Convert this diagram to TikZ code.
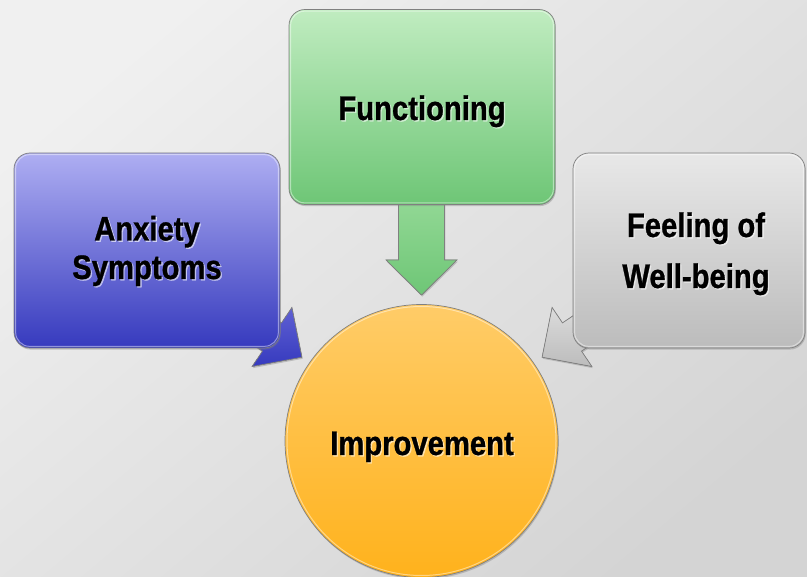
\documentclass[tikz,border=0pt]{standalone}
\usepackage{fontspec}
\setmainfont{Liberation Sans}[FakeStretch=0.86,FakeBold=0.8]
\usetikzlibrary{shadows}
\definecolor{bgA}{RGB}{240,240,240}
\definecolor{bgB}{RGB}{212,212,212}
\definecolor{blueT}{RGB}{174,174,242}
\definecolor{blueM}{RGB}{112,112,220}
\definecolor{blueB}{RGB}{54,58,190}
\definecolor{greenT}{RGB}{192,236,192}
\definecolor{greenM}{RGB}{150,218,152}
\definecolor{greenB}{RGB}{110,198,118}
\definecolor{grayT}{RGB}{232,232,232}
\definecolor{grayM}{RGB}{212,212,212}
\definecolor{grayB}{RGB}{188,188,188}
\definecolor{orT}{RGB}{255,204,104}
\definecolor{orB}{RGB}{255,178,28}
\newcommand\mylabel[3]{%
  \node[lblsh, xshift=1.3pt, yshift=-1.3pt] at (#2) {#3};
  \node[lbl] (#1) at (#2) {#3};}
\begin{document}
\begin{tikzpicture}[x=1pt,y=-1pt,
  lbl/.style={font=\fontsize{34}{40}\selectfont\bfseries, inner sep=0pt, anchor=base, text=black},
  lblsh/.style={lbl, text=white, opacity=0.55},
  shapeline/.style={draw=black!50, line width=0.7pt},
  shd/.style={drop shadow={shadow xshift=0.8pt, shadow yshift=-1.6pt, opacity=0.4}},
  box/.style={rectangle, rounded corners=16pt, shapeline, shd, inner sep=0pt},
  hilite/.style={draw=white, opacity=0.45, line width=1pt, rounded corners=14pt}
]
\useasboundingbox (0,0) rectangle (807,577);
\clip (0,0) rectangle (807,577);
\fill[top color=bgA, bottom color=bgB, shading angle=40] (-20,-20) rectangle (827,597);

% ---- arrows (behind the boxes)
\filldraw[top color=blueM, bottom color=blueB, shapeline, shd]
  (223.4,283.7) -- (281.5,322.9) -- (291.9,307.5) -- (301.9,357.2)
  -- (252.1,366.5) -- (262.5,351.1) -- (204.4,312.3) -- cycle;
\filldraw[top color=greenM, bottom color=greenB, shapeline, shd]
  (398.5,190) -- (398.5,260) -- (386,260) -- (421.5,295) -- (457,260)
  -- (444.5,260) -- (444.5,190) -- cycle;
\filldraw[top color=grayT, bottom color=grayB, shapeline, shd]
  (620.6,283.7) -- (562.5,322.9) -- (552.1,307.5) -- (542.1,357.2)
  -- (591.9,366.5) -- (581.5,351.1) -- (639.6,312.3) -- cycle;

% ---- boxes
\node[box, top color=blueT, bottom color=blueB, minimum width=266pt, minimum height=195pt] (anxbox) at (147,250.5) {};
\node[box, top color=greenT, bottom color=greenB, minimum width=266pt, minimum height=195pt] (funbox) at (422,107) {};
\node[box, top color=grayT, bottom color=grayB, minimum width=232pt, minimum height=195pt] (welbox) at (689,250.5) {};
\draw[hilite] ([shift={(2,2)}]anxbox.north west) rectangle ([shift={(-2,-2)}]anxbox.south east);
\draw[hilite] ([shift={(2,2)}]funbox.north west) rectangle ([shift={(-2,-2)}]funbox.south east);
\draw[hilite] ([shift={(2,2)}]welbox.north west) rectangle ([shift={(-2,-2)}]welbox.south east);

% ---- circle
\node[circle, minimum size=273pt, inner sep=0pt, top color=orT, bottom color=orB, shapeline, shd] (impcirc) at (421.5,441) {};
\draw[draw=white, opacity=0.45, line width=1pt] (impcirc.center) circle (134.5);

% ---- labels
\mylabel{anx1}{147,240.5}{Anxiety}
\mylabel{anx2}{147,279}{Symptoms}
\mylabel{fun}{422,120}{Functioning}
\mylabel{wel1}{696,237}{Feeling of}
\mylabel{wel2}{696,288}{Well-being}
\mylabel{imp}{422,455}{Improvement}
\end{tikzpicture}
\end{document}
